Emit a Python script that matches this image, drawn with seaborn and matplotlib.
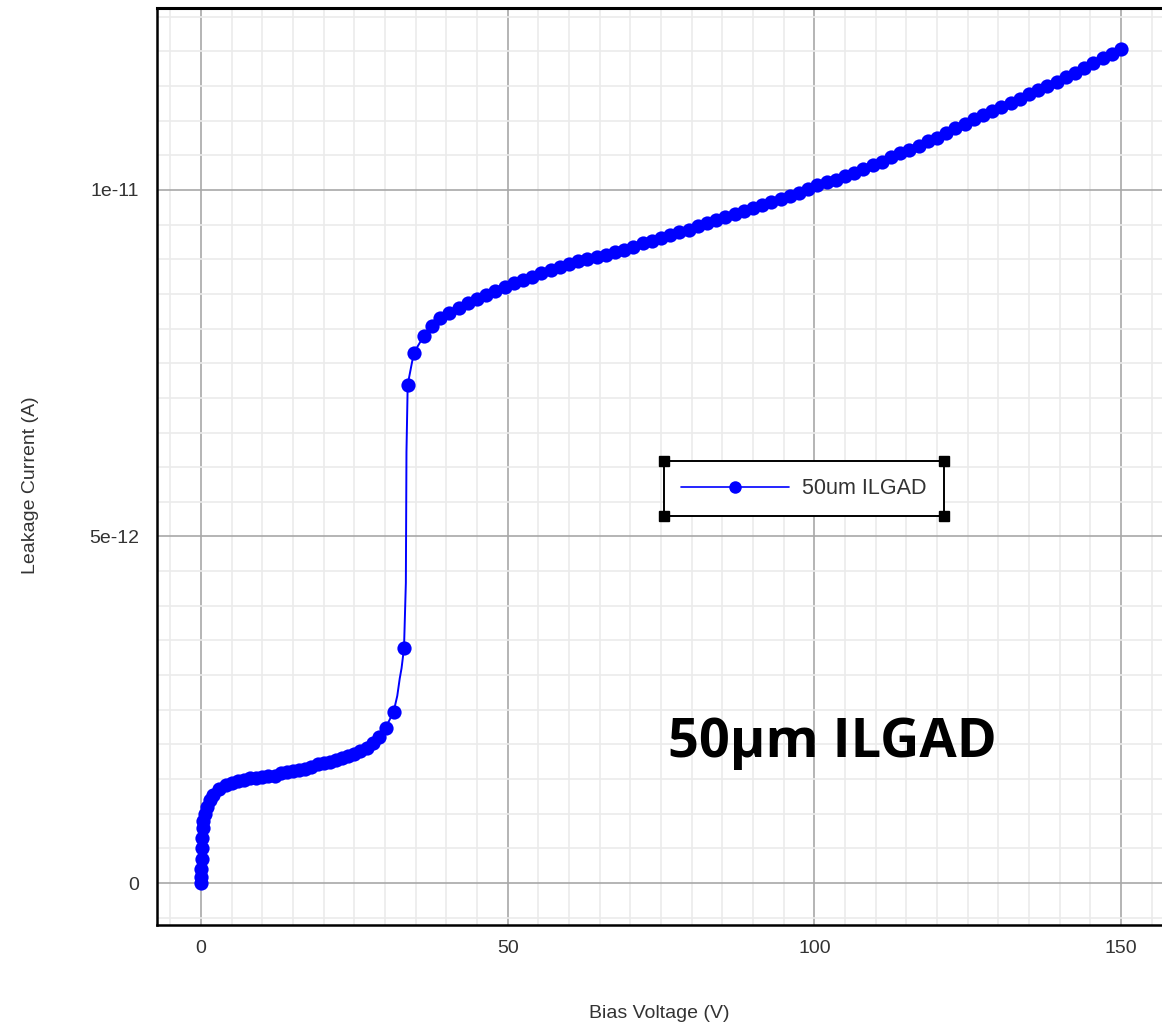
import matplotlib
matplotlib.use("Agg")
import matplotlib.pyplot as plt
from matplotlib.lines import Line2D
from matplotlib.ticker import FixedLocator, FixedFormatter, MultipleLocator
import numpy as np
import pandas as pd
import seaborn as sns

# ---- measured I-V sweep (bias in V, current in units of 1e-12 A) ----
bias_marked = [
    0.0, 0.0, 0.05, 0.1, 0.15, 0.2, 0.3, 0.4, 0.6, 1.0, 1.5, 2.0, 3.0, 4.0, 5.0,
    6.0, 7.0, 8.0, 9.0, 10.0, 11.0, 12.0, 13.0, 14.0, 15.0, 16.0, 17.0, 18.0,
    19.0, 20.0, 21.0, 22.0, 23.0, 24.0, 25.0, 26.0, 27.0, 28.0, 29.0, 30.1,
    31.4, 33.1, 33.7, 34.7, 36.3, 37.6, 39.0, 40.5, 42.0, 43.5, 45.0, 46.5,
    48.0, 49.5, 51.0, 52.5, 54.0, 55.5, 57.0, 58.5, 60.0, 61.5, 63.0, 64.5,
    66.0, 67.5, 69.0, 70.5, 72.0, 73.5, 75.0, 76.5, 78.0, 79.5, 81.0, 82.5,
    84.0, 85.5, 87.0, 88.5, 90.0, 91.5, 93.0, 94.5, 96.0, 97.5, 99.0, 100.5,
    102.0, 103.5, 105.0, 106.5, 108.0, 109.5, 111.0, 112.5, 114.0, 115.5,
    117.0, 118.5, 120.0, 121.5, 123.0, 124.5, 126.0, 127.5, 129.0, 130.5,
    132.0, 133.5, 135.0, 136.5, 138.0, 139.5, 141.0, 142.5, 144.0, 145.5,
    147.0, 148.5, 150.0,
]
current_marked = [
    0.0, 0.08, 0.2, 0.35, 0.5, 0.65, 0.8, 0.9, 1.0, 1.1, 1.2, 1.27, 1.36, 1.42,
    1.45, 1.47, 1.49, 1.51, 1.52, 1.53, 1.54, 1.55, 1.59, 1.6, 1.61, 1.63,
    1.65, 1.68, 1.71, 1.73, 1.75, 1.78, 1.8, 1.83, 1.86, 1.9, 1.95, 2.02, 2.1,
    2.24, 2.47, 3.39, 7.19, 7.65, 7.89, 8.04, 8.15, 8.23, 8.30, 8.37, 8.43,
    8.48, 8.54, 8.60, 8.66, 8.70, 8.75, 8.80, 8.85, 8.89, 8.93, 8.97, 9.00,
    9.03, 9.06, 9.10, 9.14, 9.18, 9.23, 9.27, 9.31, 9.35, 9.39, 9.43, 9.48,
    9.52, 9.56, 9.61, 9.65, 9.69, 9.74, 9.78, 9.82, 9.87, 9.91, 9.96, 10.01,
    10.07, 10.11, 10.15, 10.20, 10.25, 10.31, 10.36, 10.41, 10.47, 10.53,
    10.58, 10.64, 10.70, 10.75, 10.82, 10.89, 10.95, 11.02, 11.08, 11.14,
    11.20, 11.26, 11.32, 11.38, 11.44, 11.50, 11.56, 11.63, 11.69, 11.76,
    11.83, 11.90, 11.96, 12.03,
]
# intermediate readings in the steep rise that are drawn without symbols
bias_rise = [32.0, 32.4, 32.7, 33.4, 33.5]
current_rise = [2.7, 2.95, 3.1, 4.33, 6.22]

series_label = "50um ILGAD"
annotation_text = "50\u03bcm ILGAD"
x_label = "Bias Voltage (V)"
y_label = "Leakage Current (A)"
x_ticks = [0, 50, 100, 150]
x_tick_labels = ["0", "50", "100", "150"]
y_ticks = [0.0, 5e-12, 1e-11]
y_tick_labels = ["0", "5e-12", "1e-11"]

scale = 1e-12
marked = pd.DataFrame({"bias": bias_marked,
                       "current": np.array(current_marked) * scale})
rise = pd.DataFrame({"bias": bias_rise,
                     "current": np.array(current_rise) * scale})
trace = pd.concat([marked, rise]).sort_values(["bias", "current"],
                                              kind="stable")

sns.set_theme(style="white")
plt.rcParams["font.family"] = ["Liberation Sans", "DejaVu Sans"]

fig = plt.figure(figsize=(11.62, 10.22), dpi=100)
ax = fig.add_axes([157 / 1162, 1 - 925 / 1022, 1 - 157 / 1162, 917 / 1022])

blue = "#0000ff"
sns.lineplot(data=trace, x="bias", y="current", ax=ax, sort=False,
             estimator=None, color=blue, linewidth=1.4, zorder=3)
sns.scatterplot(data=marked, x="bias", y="current", ax=ax, color=blue,
                s=105, linewidth=0, zorder=4)

# axis ranges and ticks
px_per_volt = 920 / 150
px_per_unit = 693 / 1e-11
ax.set_xlim(-44 / px_per_volt, 961 / px_per_volt)
ax.set_ylim(-42 / px_per_unit, 875 / px_per_unit)

ax.xaxis.set_major_locator(FixedLocator(x_ticks))
ax.xaxis.set_major_formatter(FixedFormatter(x_tick_labels))
ax.yaxis.set_major_locator(FixedLocator(y_ticks))
ax.yaxis.set_major_formatter(FixedFormatter(y_tick_labels))
ax.xaxis.set_minor_locator(MultipleLocator(5))
ax.yaxis.set_minor_locator(MultipleLocator(0.5e-12))

ax.grid(True, which="minor", color="#ebebeb", linewidth=1.2, zorder=0)
ax.grid(True, which="major", color="#a8a8a8", linewidth=1.2, zorder=1)
ax.set_axisbelow(True)

ax.tick_params(axis="both", which="both", direction="in", color="black",
               labelcolor="#333333", labelsize=14)
ax.tick_params(axis="y", which="major", length=16, width=1.5, pad=13)
ax.tick_params(axis="y", which="minor", length=6, width=1.5)
ax.tick_params(axis="x", which="major", length=12, width=1.2, pad=11)
ax.tick_params(axis="x", which="minor", length=5, width=1.5)
ax.tick_params(top=False, right=False, which="both")

for side in ("left", "bottom", "top"):
    ax.spines[side].set_visible(True)
    ax.spines[side].set_color("black")
    ax.spines[side].set_linewidth(1.8)
ax.spines["top"].set_linewidth(2.2)
ax.spines["right"].set_visible(False)

ax.set_xlabel(x_label, fontsize=14, color="#333333", labelpad=34)
ax.set_ylabel(y_label, fontsize=14, color="#333333", labelpad=36, y=0.48)

# legend with a selection-style frame
handle = Line2D([], [], color=blue, linewidth=1.2, marker="o",
                markersize=9, markeredgewidth=0)
leg = ax.legend([handle], [series_label], loc="upper left",
                bbox_to_anchor=((664 - 157) / 1005, (925 - 461) / 917),
                frameon=True, fancybox=False, framealpha=1, edgecolor="black",
                handlelength=5.0, handletextpad=0.6, borderpad=0.8,
                borderaxespad=0, fontsize=15.5, labelcolor="#333333")
leg.get_frame().set_linewidth(1.4)

fig.canvas.draw()
frame_box = leg.get_frame().get_window_extent()
inv = fig.transFigure.inverted()
corners_x = [frame_box.x0, frame_box.x1, frame_box.x0, frame_box.x1]
corners_y = [frame_box.y0, frame_box.y0, frame_box.y1, frame_box.y1]
cf = inv.transform(np.column_stack([corners_x, corners_y]))
fig.add_artist(Line2D(cf[:, 0], cf[:, 1], linestyle="none", marker="s",
                      markersize=6.5, color="black", transform=fig.transFigure,
                      zorder=10))

ax.text(0.508, 0.198, annotation_text, transform=ax.transAxes,
        fontsize=39, fontweight="bold", color="black", ha="left",
        va="center", family=["Open Sans", "DejaVu Sans"])

fig.savefig("out.png", dpi=100)
